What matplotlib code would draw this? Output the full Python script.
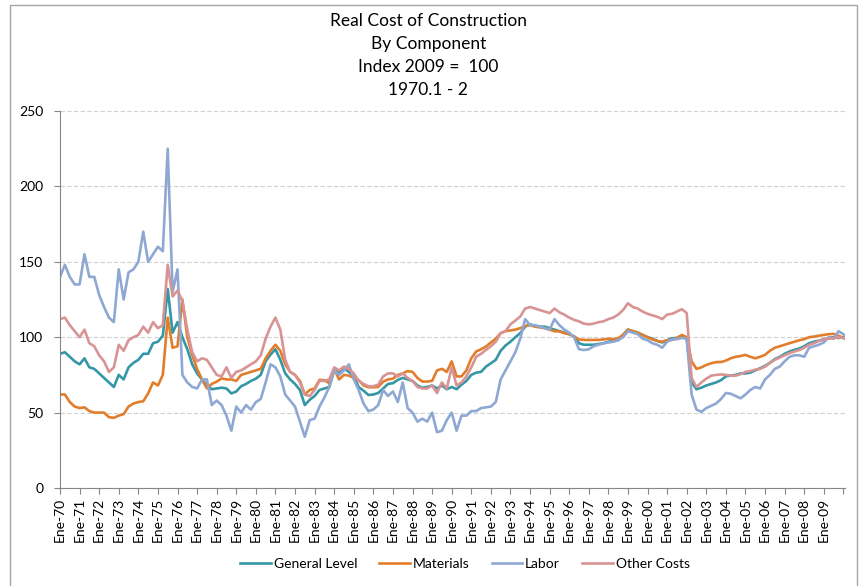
"""Real cost of construction by component, index 2009 = 100, 1970.1 - 2010.2."""

import matplotlib

matplotlib.use("Agg")
import matplotlib.pyplot as plt
import numpy as np
from matplotlib.patches import Rectangle

plt.rcParams["font.family"] = ["Lato", "DejaVu Sans"]

# Quarterly readings (Jan, Apr, Jul, Oct) from 1970 to 2010, last one is Feb 2010.
YEARS = list(range(1970, 2010))
GENERAL_LEVEL = [
    89, 90, 87, 84,   82, 86, 80, 79,   76, 73, 70, 67,   75, 72, 80, 83,
    85, 89, 89, 96,   97, 101, 132, 103,   110, 100, 92, 82,   76, 72, 68, 65.5,
    66, 66.5, 66, 62.7,   64, 67.5, 69, 71,   72.5, 75, 84, 88.5,   92, 85, 76, 72,
    69, 65, 55, 58.5,   61, 65, 66, 67,   78, 77, 79.4, 77,   74, 67, 64.5, 61.7,
    62, 63, 66, 69,   69.5, 71.7, 73, 72,   71, 68, 66.5, 67,   68, 66, 68, 65.5,
    67, 65.5, 68.5, 71,   75, 76.5, 77, 80.5,   82.7, 85, 91, 94.5,   97, 100, 102.7, 107,
    108.5, 107.5, 107, 107,   106, 105, 104, 103,   102, 100.5, 96, 95,   95, 95, 95.5, 96,
    97, 97.5, 98, 101.5,   105, 104, 103, 101.5,   100, 99, 97.5, 96.5,   98, 99.3, 99.5, 101,
    99, 70, 65.5, 66.5,   68, 69, 70, 71.5,   74, 74.5, 75, 76,   76, 76.5, 78, 79.4,
    81, 83, 85.5, 87,   89, 90.5, 91.6, 92.5,   94, 96, 97, 97.7,   98.5, 99.5, 100, 99.5,
    100, 100.4,
]
MATERIALS = [
    62, 62, 57, 54,   53, 53.5, 51, 50,   50, 50, 47, 46.5,   48, 49, 54, 56,
    57, 57.5, 62.7, 70,   68, 75, 113, 93,   94, 125, 100, 88,   79, 72, 66, 69,
    70.5, 72.7, 72, 72,   71, 75, 76, 77,   78, 79, 86, 91,   95, 91, 82, 77,
    75, 71, 62, 65,   66, 71.7, 71.5, 69.5,   79, 72, 75, 74.5,   73, 71.5, 68, 66.8,
    66.8, 67, 70.5, 72,   72.5, 75, 76, 77.5,   77, 73, 70.6, 70.6,   71, 78, 79, 77,
    84, 74, 74, 78,   86, 90.5, 92, 93.8,   96.5, 99, 102.7, 104,   104.5, 105, 106, 107.5,
    108, 107, 106.5, 106,   105, 104, 103.8, 102.7,   102, 100.5, 98.5, 98.2,   98.2, 98.2, 98.2, 98.5,
    99, 98.7, 99.3, 101.5,   105, 104, 103, 101.5,   100, 98.5, 97.5, 97,   98, 98.2, 99.5, 101.5,
    100, 84, 79, 80,   81.6, 82.7, 83.5, 83.5,   84.5, 86, 87, 87.5,   88.3, 87, 86, 87,
    88.3, 91, 93, 94,   95, 96, 97, 98,   98.7, 100, 100.4, 101,   101.5, 102, 102.2, 101,
    99.5, 99,
]
LABOR = [
    140, 148, 140, 135,   135, 155, 140, 140,   128, 120, 113, 110,   145, 125, 143, 145,
    150, 170, 150, 155,   160, 157, 225, 130,   145, 75, 70, 67,   66, 72, 72, 55,
    58, 55, 48, 38,   54, 50, 55, 52,   57, 59, 70, 82,   80, 74, 62, 58,
    54, 44, 34, 45,   46, 54, 60, 67,   78, 75, 78, 82,   72, 65, 56, 51,
    52, 55, 65, 61,   64, 57, 70, 53,   50, 44, 46, 44,   50, 37, 38, 45,
    50, 38, 48, 48,   51, 51, 53, 53.5,   54, 57, 72, 78,   84, 90, 99, 112,
    108, 108, 107, 106,   105, 112, 108, 105,   103, 100, 92, 91.5,   92, 94, 95, 96,
    96.5, 97, 98, 100,   104, 103, 102, 99,   98, 96, 95, 93,   97, 98.5, 98.7, 99.5,
    99, 62, 52, 50.5,   53, 54.5, 56, 59,   63, 62.5, 61, 59.5,   62, 65, 67, 66,
    72, 75, 79, 80.5,   84, 87, 88, 88,   87, 93, 94, 95,   96.5, 100, 99, 104,
    102, 101,
]
OTHER_COSTS = [
    112, 113, 108, 104,   100, 105, 96, 94,   88, 84, 77, 80,   95, 91, 98, 100,
    101.5, 107, 103, 110,   106, 108, 148, 127,   131, 124, 105, 90,   84, 86, 85, 80,
    75, 74, 80, 73,   77, 78, 80, 82,   84, 88, 99, 107,   113, 105, 85, 77,
    75, 70, 62, 61,   65, 71, 71, 72,   80, 78, 80.5, 79,   76, 71, 69, 67.5,
    67.5, 68.5, 74, 76,   76, 74, 76, 73,   71, 67, 66, 66,   68, 63, 70, 66,
    80, 68, 70, 74,   80, 87, 89, 91.6,   94, 97, 102.7, 104,   108.5, 111, 113.7, 119,
    120, 119, 118, 117,   116, 119, 116.5, 115,   113, 111.5, 110.5, 109,   108.5, 109, 110, 110.5,
    112, 113, 115, 118,   122.5, 120, 119, 117,   115.5, 114.5, 113.5, 112,   115, 115.5, 117, 118.6,
    116, 73, 67, 70,   72.5, 74.5, 75, 75.3,   75, 74.5, 74.5, 75.5,   77, 77.5, 78.5, 79,
    80.5, 83, 85, 86.5,   88, 89.5, 90.5, 91.5,   93, 95, 96, 97.5,   98.7, 99, 99.3, 100,
    99.5, 99.3,
]

SERIES = [
    ("General Level", GENERAL_LEVEL, "#3497A5"),
    ("Materials", MATERIALS, "#E27D2C"),
    ("Labor", LABOR, "#8EA8D3"),
    ("Other Costs", OTHER_COSTS, "#D89494"),
]


def main() -> None:
    t = np.concatenate([np.arange(1970, 2010.01, 0.25), [2010 + 1 / 12]])

    fig = plt.figure(figsize=(8.62, 5.86), dpi=100, facecolor="white")
    fig.patches.append(
        Rectangle((10 / 862, -0.01), 847 / 862, 1 - 5 / 586 + 0.01, transform=fig.transFigure,
                  fill=False, edgecolor="#a6a6a6", linewidth=1.0)
    )
    ax = fig.add_axes((60 / 862, 1 - 488 / 586, 785 / 862, 377 / 586))

    for name, values, color in SERIES:
        ax.plot(t, values, color=color, linewidth=1.9, label=name)

    ax.set_xlim(1970, 2010 + 1 / 12)
    ax.set_ylim(0, 250)
    ax.set_yticks(range(0, 251, 50))
    ax.set_xticks(range(1970, 2011))
    ax.set_xticklabels([f"Ene-{y % 100:02d}" for y in YEARS] + [""], rotation=90, fontsize=10)
    ax.tick_params(axis="y", labelsize=10, length=4, color="#868686", pad=8)
    ax.tick_params(axis="x", length=4, color="#868686", pad=3)
    ax.grid(axis="y", color="#d0d0d0", linestyle=(0, (4, 2)), linewidth=0.8)
    ax.set_axisbelow(True)
    for side in ("top", "right"):
        ax.spines[side].set_visible(False)
    for side in ("left", "bottom"):
        ax.spines[side].set_color("#868686")

    title = ["Real Cost of Construction", "By Component", "Index 2009 =  100", "1970.1 - 2"]
    for i, line in enumerate(title):
        fig.text(0.497, 1 - (21 + 23 * i) / 586, line, ha="center", va="center", fontsize=12.5)

    fig.legend(
        loc="center",
        bbox_to_anchor=(465 / 862, 1 - 564 / 586),
        ncol=4,
        frameon=False,
        fontsize=10,
        handlelength=2.2,
        handletextpad=0.2,
        columnspacing=1.6,
    )
    fig.savefig("out.png", dpi=100, facecolor="white")
    plt.close(fig)


if __name__ == "__main__":
    main()
